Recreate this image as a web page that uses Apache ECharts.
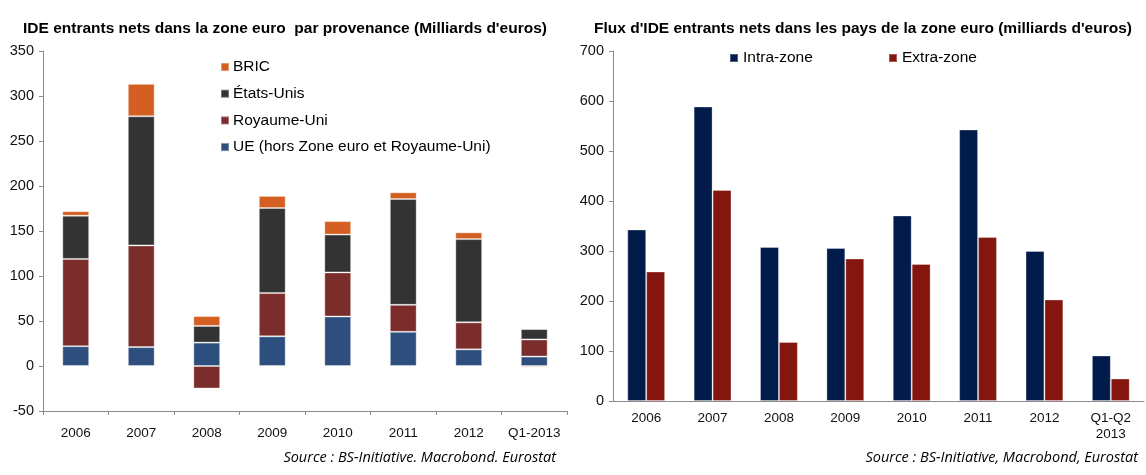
<!DOCTYPE html>
<html>
<head>
<meta charset="utf-8">
<script src="https://cdn.jsdelivr.net/npm/echarts@6/dist/echarts.min.js"></script>
<style>
  html, body { margin: 0; padding: 0; background: #fff; }
  #chart { width: 1146px; height: 475px; }
</style>
</head>
<body>
<div id="chart"></div>
<script>
// données (milliards d'euros)
var categoriesLeft = ['2006', '2007', '2008', '2009', '2010', '2011', '2012', 'Q1-2013'];
var ueHorsZone = [22, 21, 26, 33, 55, 38, 18.5, 10.5];
var royaumeUni = [97, 113, -25, 48, 49, 30, 30, 19];
var etatsUnis = [48, 143.5, 18.5, 94.5, 42, 117.5, 92.5, 11.5];
var bric = [5, 36, 11, 13.5, 15, 7.5, 7.5, -1.5];

var categoriesRight = ['2006', '2007', '2008', '2009', '2010', '2011', '2012', 'Q1-Q2\n2013'];
var intraZone = [343, 589, 308, 306, 371, 543, 300, 91];
var extraZone = [259, 422, 118, 285, 274, 328, 203, 45];

var font = 'Liberation Sans, Arial, sans-serif';
var axisGray = '#8c8c8c';

var chart = echarts.init(document.getElementById('chart'));

function stackBar(name, data, color) {
    return {
        name: name,
        type: 'bar',
        stack: 'total',
        xAxisIndex: 0,
        yAxisIndex: 0,
        barWidth: '41%',
        data: data,
        itemStyle: { color: color, borderColor: 'rgba(255,255,255,0.35)', borderWidth: 1 }
    };
}

function groupBar(name, data, color) {
    return {
        name: name,
        type: 'bar',
        xAxisIndex: 2,
        yAxisIndex: 1,
        barGap: '0%',
        barCategoryGap: '43%',
        data: data,
        itemStyle: { color: color, borderColor: 'rgba(255,255,255,0.3)', borderWidth: 1 }
    };
}

var option = {
    animation: false,
    title: [{
        text: "IDE entrants nets dans la zone euro  par provenance (Milliards d'euros)",
        left: 18, top: 16,
        textStyle: { fontFamily: font, fontSize: 15.5, fontWeight: 'bold', color: '#000' }
    }, {
        text: "Flux d'IDE entrants nets dans les pays de la zone euro (milliards d'euros)",
        left: 589, top: 16,
        textStyle: { fontFamily: font, fontSize: 15.5, fontWeight: 'bold', color: '#000' }
    }],
    legend: [{
        orient: 'vertical',
        left: 215, top: 54,
        itemWidth: 8, itemHeight: 8, itemGap: 10.7,
        icon: 'rect',
        data: ['BRIC', 'États-Unis', 'Royaume-Uni', 'UE (hors Zone euro et Royaume-Uni)'],
        textStyle: { fontFamily: font, fontSize: 15.5, color: '#000', lineHeight: 16, padding: [0, 0, 0, -1] }
    }, {
        left: 724, top: 45,
        itemWidth: 8, itemHeight: 8,
        icon: 'rect',
        data: ['Intra-zone'],
        textStyle: { fontFamily: font, fontSize: 15.5, color: '#000', lineHeight: 16 }
    }, {
        left: 883, top: 45,
        itemWidth: 8, itemHeight: 8,
        icon: 'rect',
        data: ['Extra-zone'],
        textStyle: { fontFamily: font, fontSize: 15.5, color: '#000', lineHeight: 16 }
    }],
    grid: [
        { left: 43, right: 579, top: 51, bottom: 64 },
        { left: 613, right: 2, top: 51, bottom: 74 }
    ],
    xAxis: [{
        // étiquettes en bas du graphique de gauche
        type: 'category', gridIndex: 0, data: categoriesLeft,
        axisLine: { show: false }, axisTick: { show: false },
        axisLabel: { interval: 0, margin: 15, fontFamily: font, fontSize: 13.5, color: '#111' }
    }, {
        // ligne du zéro avec graduations
        type: 'category', gridIndex: 0, data: categoriesLeft, position: 'bottom',
        axisLine: { onZero: true, lineStyle: { color: axisGray, width: 1 } },
        axisTick: { show: true, interval: 0, length: 4, lineStyle: { color: axisGray } },
        axisLabel: { show: false }
    }, {
        type: 'category', gridIndex: 1, data: categoriesRight,
        axisLine: { lineStyle: { color: axisGray, width: 1 } },
        axisTick: { interval: 0, length: 5, lineStyle: { color: axisGray } },
        axisLabel: { interval: 0, margin: 9, fontFamily: font, fontSize: 13.5, color: '#111', lineHeight: 16 }
    }],
    yAxis: [{
        type: 'value', gridIndex: 0, min: -50, max: 350, interval: 50,
        axisLine: { show: true, lineStyle: { color: axisGray } },
        axisTick: { show: true, length: 4, lineStyle: { color: axisGray } },
        splitLine: { show: false },
        axisLabel: { margin: 9, fontFamily: font, fontSize: 14.5, color: '#111' }
    }, {
        type: 'value', gridIndex: 1, min: 0, max: 700, interval: 100,
        axisLine: { show: true, lineStyle: { color: axisGray } },
        axisTick: { show: true, length: 4, lineStyle: { color: axisGray } },
        splitLine: { show: false },
        axisLabel: { margin: 9, fontFamily: font, fontSize: 14.5, color: '#111' }
    }],
    series: [
        stackBar('UE (hors Zone euro et Royaume-Uni)', ueHorsZone, '#2E4F7E'),
        stackBar('Royaume-Uni', royaumeUni, '#7B2D2B'),
        stackBar('États-Unis', etatsUnis, '#333333'),
        stackBar('BRIC', bric, '#D45F22'),
        groupBar('Intra-zone', intraZone, '#011C4B'),
        groupBar('Extra-zone', extraZone, '#84160F')
    ],
    graphic: [{
        type: 'text', right: 1146 - 556, top: 450,
        style: { text: 'Source : BS-Initiative. Macrobond. Eurostat', font: 'italic 14.5px "Open Sans", sans-serif', fill: '#000' }
    }, {
        type: 'text', right: 8, top: 450,
        style: { text: 'Source : BS-Initiative, Macrobond, Eurostat', font: 'italic 14.5px "Open Sans", sans-serif', fill: '#000' }
    }]
};

chart.setOption(option);
</script>
</body>
</html>
